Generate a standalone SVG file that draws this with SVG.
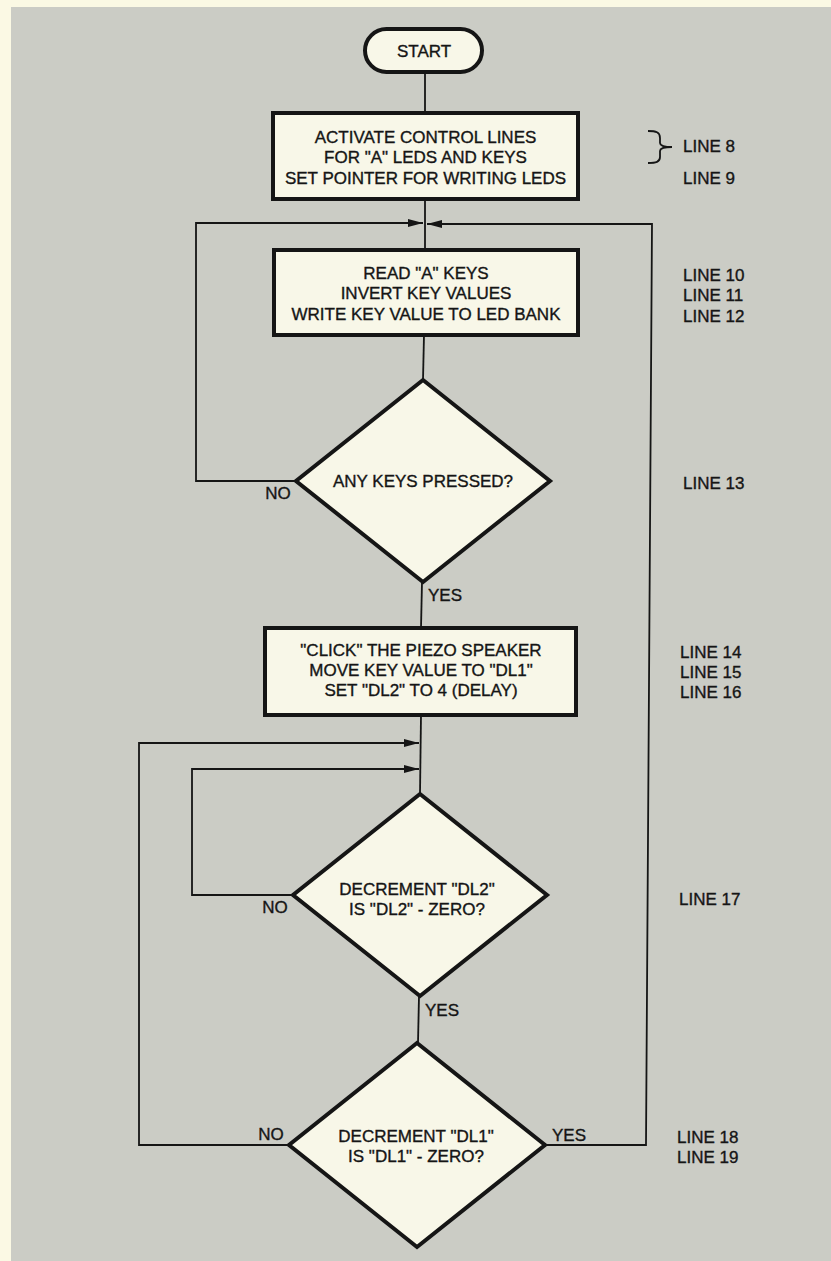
<svg xmlns="http://www.w3.org/2000/svg" width="831" height="1261" viewBox="0 0 831 1261">
<style>
.bg{fill:#cbccc5}
.node{fill:#f8f7e8;stroke:#151515;stroke-width:4;stroke-linejoin:miter}
.t{font-family:"Liberation Sans",Arial,sans-serif;font-size:17px;fill:#151515;stroke:#151515;stroke-width:0.35}
.m{text-anchor:middle}
.c{fill:none;stroke:#151515;stroke-width:1.8}
</style>
<defs>
<marker id="ah" markerUnits="userSpaceOnUse" markerWidth="16" markerHeight="10" refX="15" refY="4" orient="auto">
<path d="M0,0 L15,4 L0,8 z" fill="#151515"/>
</marker>
</defs>
<rect x="0" y="0" width="831" height="1261" fill="#fbf9e4"/>
<rect class="bg" x="11" y="7" width="820" height="1254"/>

<g id="connectors">
<path class="c" d="M425,72 V113"/>
<path class="c" d="M425,199 V250"/>
<path class="c" d="M296,481 H196 V223 H423" marker-end="url(#ah)"/>
<path class="c" d="M545,1145 H646 L652,224 H427" marker-end="url(#ah)"/>
<path class="c" d="M424,335 L423,380"/>
<path class="c" d="M422,582 L421,628"/>
<path class="c" d="M421,715 L420,794"/>
<path class="c" d="M289,1145 H139 V743 H419" marker-end="url(#ah)"/>
<path class="c" d="M293,895 H192 V769 H419" marker-end="url(#ah)"/>
<path class="c" d="M419,996 L418,1043"/>
<path class="c" d="M648,131 C656,131 660,132 660,138 L660,143 C660,146 664,147 672,147 C664,147 660,148 660,151 L660,157 C660,162 656,163 648,163"/>
</g>

<g id="start">
<rect class="node" x="365" y="29" width="117" height="43" rx="21.5"/>
<text class="t m" x="424" y="57">START</text>
</g>

<g id="box1">
<rect class="node" x="273" y="113" width="305" height="86"/>
<text class="t m" x="425.5" y="143">ACTIVATE CONTROL LINES</text>
<text class="t m" x="425.5" y="163">FOR "A" LEDS AND KEYS</text>
<text class="t m" x="425.5" y="184">SET POINTER FOR WRITING LEDS</text>
</g>

<g id="box2">
<rect class="node" x="274" y="250" width="304" height="85"/>
<text class="t m" x="426" y="279">READ "A" KEYS</text>
<text class="t m" x="426" y="299">INVERT KEY VALUES</text>
<text class="t m" x="426" y="320">WRITE KEY VALUE TO LED BANK</text>
</g>

<g id="decision1">
<polygon class="node" points="423,380 550,481 423,582 296,481"/>
<text class="t m" x="423" y="487">ANY KEYS PRESSED?</text>
</g>

<g id="box3">
<rect class="node" x="265" y="628" width="311" height="87"/>
<text class="t m" x="421" y="656">"CLICK" THE PIEZO SPEAKER</text>
<text class="t m" x="421" y="676">MOVE KEY VALUE TO "DL1"</text>
<text class="t m" x="421" y="696">SET "DL2" TO 4 (DELAY)</text>
</g>

<g id="decision2">
<polygon class="node" points="420,794 547,895 420,996 293,895"/>
<text class="t m" x="417" y="895">DECREMENT "DL2"</text>
<text class="t m" x="417" y="915">IS "DL2" - ZERO?</text>
</g>

<g id="decision3">
<polygon class="node" points="417,1043 545,1145 417,1247 289,1145"/>
<text class="t m" x="416" y="1142">DECREMENT "DL1"</text>
<text class="t m" x="416" y="1162">IS "DL1" - ZERO?</text>
</g>

<g id="branch-labels">
<text class="t m" x="278" y="499">NO</text>
<text class="t" x="428" y="601">YES</text>
<text class="t m" x="275" y="913">NO</text>
<text class="t" x="425" y="1016">YES</text>
<text class="t m" x="271" y="1140">NO</text>
<text class="t" x="552" y="1141">YES</text>
</g>

<g id="line-labels">
<text class="t" x="683" y="152">LINE 8</text>
<text class="t" x="683" y="184">LINE 9</text>
<text class="t" x="683" y="281">LINE 10</text>
<text class="t" x="683" y="301">LINE 11</text>
<text class="t" x="683" y="322">LINE 12</text>
<text class="t" x="683" y="489">LINE 13</text>
<text class="t" x="680" y="658">LINE 14</text>
<text class="t" x="680" y="678">LINE 15</text>
<text class="t" x="680" y="698">LINE 16</text>
<text class="t" x="679" y="905">LINE 17</text>
<text class="t" x="677" y="1143">LINE 18</text>
<text class="t" x="677" y="1163">LINE 19</text>
</g>
</svg>
